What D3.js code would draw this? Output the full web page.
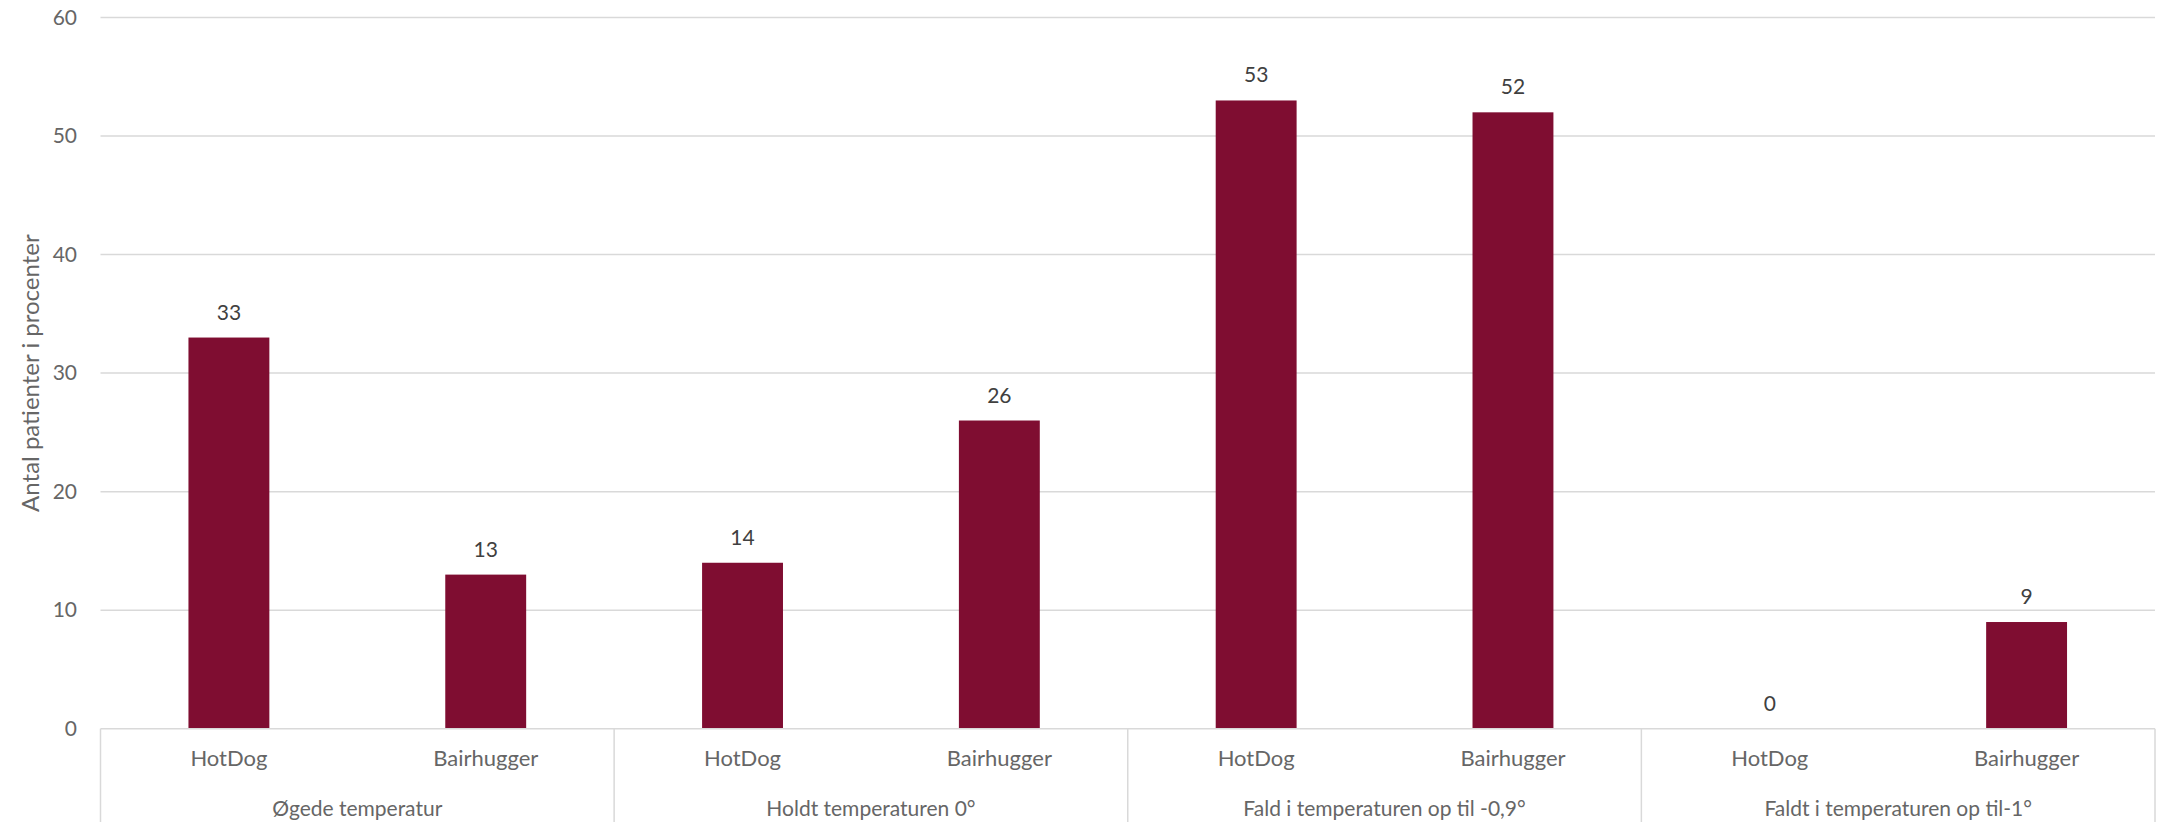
<!DOCTYPE html>
<html>
<head>
<meta charset="utf-8">
<script src="https://cdn.jsdelivr.net/npm/d3@7"></script>
<style>
  html, body { margin: 0; padding: 0; background: #fff; }
  svg { display: block; font-family: "Lato", "Open Sans", sans-serif; }
</style>
</head>
<body>
<svg id="chart" width="2158" height="822"></svg>
<script>
const groups = ["Øgede temperatur", "Holdt temperaturen 0°", "Fald i temperaturen op til -0,9°", "Faldt i temperaturen op til-1°"];
const devices = ["HotDog", "Bairhugger"];
const values = [33, 13, 14, 26, 53, 52, 0, 9];
const yTicks = [0, 10, 20, 30, 40, 50, 60];
const yTitle = "Antal patienter i procenter";

(function () {
const data = [];
groups.forEach((g, gi) => devices.forEach((d, di) => {
  data.push({ key: gi + "-" + di, group: g, device: d, value: values[gi * devices.length + di] });
}));

const svg = d3.select("#chart");
const mLeft = 100.5, mRight = 2155, mTop = 17.5, mBottom = 728.7;
const barRatio = 0.315;

const x = d3.scaleBand()
  .domain(data.map(d => d.key))
  .range([mLeft, mRight])
  .paddingInner(1 - barRatio)
  .paddingOuter((1 - barRatio) / 2);

const xg = d3.scaleBand().domain(groups).range([mLeft, mRight]);

const y = d3.scaleLinear().domain([0, 60]).range([mBottom, mTop]);

svg.append("g").selectAll("line").data(yTicks.filter(t => t > 0)).join("line")
  .attr("x1", mLeft).attr("x2", mRight)
  .attr("y1", d => y(d)).attr("y2", d => y(d))
  .attr("stroke", "#d9d9d9").attr("stroke-width", 1.5);

const yAxis = d3.axisLeft(y).tickValues(yTicks).tickSize(0).tickPadding(0).tickFormat(d3.format("d"));
const ya = svg.append("g").attr("transform", `translate(${77},0)`).call(yAxis);
ya.select(".domain").remove();
ya.selectAll("text").attr("font-size", 21).attr("fill", "#666666").attr("font-family", "Lato");

svg.append("g").selectAll("rect").data(data).join("rect")
  .attr("x", d => x(d.key))
  .attr("width", x.bandwidth())
  .attr("y", d => y(d.value))
  .attr("height", d => y(0) - y(d.value))
  .attr("fill", "#7F0D31");

svg.append("g").selectAll("text").data(data).join("text")
  .attr("x", d => x(d.key) + x.bandwidth() / 2)
  .attr("y", d => y(d.value) - 18)
  .attr("text-anchor", "middle")
  .attr("font-size", 21)
  .attr("fill", "#404040")
  .text(d => d.value);

svg.append("line")
  .attr("x1", mLeft).attr("x2", mRight)
  .attr("y1", y(0)).attr("y2", y(0))
  .attr("stroke", "#d9d9d9").attr("stroke-width", 1.5);

const seps = groups.map(g => xg(g)).concat([mRight]);
svg.append("g").selectAll("line").data(seps).join("line")
  .attr("x1", d => d).attr("x2", d => d)
  .attr("y1", y(0)).attr("y2", 822)
  .attr("stroke", "#d9d9d9").attr("stroke-width", 1.5);

svg.append("g").selectAll("text").data(data).join("text")
  .attr("x", d => x(d.key) + x.bandwidth() / 2)
  .attr("y", 766)
  .attr("text-anchor", "middle")
  .attr("font-size", 22)
  .attr("fill", "#666666")
  .text(d => d.device);

svg.append("g").selectAll("text").data(groups).join("text")
  .attr("x", d => xg(d) + xg.bandwidth() / 2)
  .attr("y", 816)
  .attr("text-anchor", "middle")
  .attr("font-size", 21)
  .attr("fill", "#666666")
  .text(d => d);

svg.append("text")
  .attr("transform", `translate(39,${(mTop + mBottom) / 2}) rotate(-90)`)
  .attr("text-anchor", "middle")
  .attr("font-size", 24)
  .attr("fill", "#666666")
  .text(yTitle);
})();
</script>
</body>
</html>
